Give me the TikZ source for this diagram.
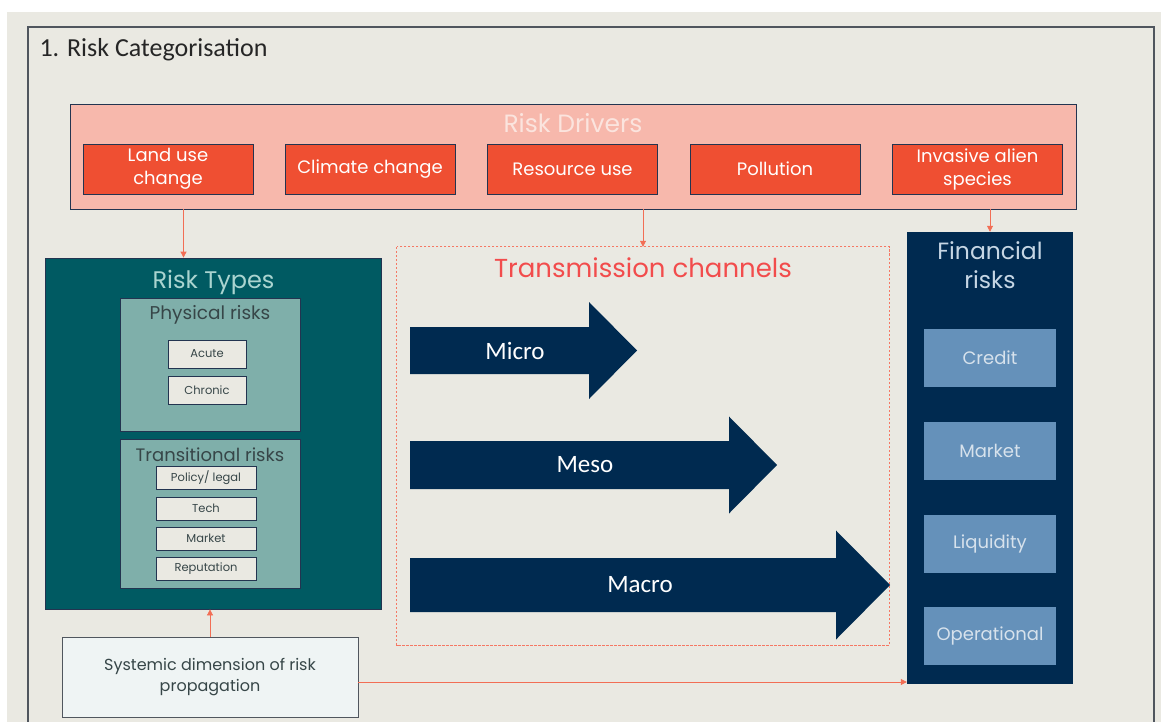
\documentclass[tikz,border=0pt]{standalone}
\usepackage{fontspec}
\setmainfont{Poppins}
\newfontfamily\calibfont{Carlito}
\usetikzlibrary{arrows.meta,positioning}
\definecolor{rcbg}{RGB}{234,233,226}
\definecolor{rcframe}{RGB}{80,86,94}
\definecolor{rcnavy}{RGB}{0,42,80}
\definecolor{rcedge}{RGB}{35,52,80}
\definecolor{rcpink}{RGB}{247,184,172}
\definecolor{rcpinktext}{RGB}{251,228,222}
\definecolor{rcorange}{RGB}{239,79,50}
\definecolor{rcteal}{RGB}{0,90,98}
\definecolor{rcteallight}{RGB}{127,175,170}
\definecolor{rctealtext}{RGB}{170,212,208}
\definecolor{rcgraytext}{RGB}{55,70,72}
\definecolor{rcsteel}{RGB}{101,145,186}
\definecolor{rcsteeltext}{RGB}{215,226,236}
\definecolor{rcred}{RGB}{242,76,76}
\definecolor{rclink}{RGB}{242,110,85}
\definecolor{rcdash}{RGB}{245,120,100}
\definecolor{rcpale}{RGB}{239,244,244}

\tikzset{
  box/.style={draw=rcedge, line width=0.8pt, inner sep=0pt, align=center},
  driver/.style={box, fill=rcorange, text=white, minimum width=170, minimum height=50,
    font=\fontsize{18}{23}\selectfont},
  smallbox/.style={box, fill=rcbg, text=rcgraytext, font=\fontsize{11.5}{13}\selectfont},
  finbox/.style={inner sep=0pt, fill=rcsteel, text=rcsteeltext, minimum width=132,
    minimum height=58, font=\fontsize{18}{20}\selectfont},
  link/.style={rclink, line width=0.8pt, -{Triangle[length=6pt,width=6pt]}},
  flow/.style={text=white, font=\calibfont\fontsize{25}{28}\selectfont}
}

\begin{document}
\begin{tikzpicture}[x=1pt,y=-1pt]
\useasboundingbox (0,0) rectangle (1161,722);
% background and frame
\fill[rcbg] (7,12) rectangle (1161,722);
\draw[rcframe, line width=1.4pt] (28,722) -- (28,27) -- (1154,27) -- (1154,722);
\node[anchor=base west, text=black!85, font=\calibfont\fontsize{26}{30}\selectfont] (title) at (36,57) {1. Risk Categorisation};

% Risk drivers
\node[box, fill=rcpink, minimum width=1006, minimum height=105] (drivers) at (573,156.5) {};
\node[below=6pt of drivers.north, text=rcpinktext, font=\fontsize{25}{28}\selectfont] (driverstitle) {Risk Drivers};
\foreach \name/\x/\txt in {land/168/{Land use\\change}, climate/370/{Climate change},
    resource/572.5/{Resource use}, pollution/775/{Pollution}, invasive/977.5/{Invasive alien\\species}}
  \node[driver] (\name) at (\x,169) {\txt};

% Risk types
\node[box, fill=rcteal, minimum width=336, minimum height=351] (rtypes) at (213.5,433.5) {};
\node[below=9pt of rtypes.north, text=rctealtext, font=\fontsize{24}{28}\selectfont] (rtypestitle) {Risk Types};
\node[box, fill=rcteallight, minimum width=180, minimum height=133] (physical) at (210,364.5) {};
\node[below=4.5pt of physical.north, text=rcgraytext, font=\fontsize{18.5}{21}\selectfont] (physicaltitle) {Physical risks};
\node[smallbox, minimum width=78, minimum height=28] (acute) at (207,354) {Acute};
\node[smallbox, minimum width=78, minimum height=28] (chronic) at (207,390) {Chronic};
\node[box, fill=rcteallight, minimum width=180, minimum height=149] (transitional) at (210,513.5) {};
\node[below=6pt of transitional.north, text=rcgraytext, font=\fontsize{18}{21}\selectfont] (transitionaltitle) {Transitional risks};
\foreach \name/\y/\txt in {policy/478/{Policy/ legal}, tech/508.5/Tech, market/538.5/Market, reputation/569/Reputation}
  \node[smallbox, minimum width=100, minimum height=23] (\name) at (206,\y) {\txt};

% Systemic dimension
\node[box, draw=rcframe, fill=rcpale, minimum width=296, minimum height=80, text=rcgraytext,
  font=\fontsize{16}{21}\selectfont] (systemic) at (210,677) {Systemic dimension of risk\\propagation};

% Transmission channels
\node[minimum width=492, minimum height=398, inner sep=0pt] (trans) at (643,446) {};
\draw[rcdash, line width=1pt, dash pattern=on 2.5pt off 1.5pt] (trans.north west) rectangle (trans.south east);
\node[below=7pt of trans.north, text=rcred, font=\fontsize{26}{29}\selectfont] (transtitle) {Transmission channels};
\foreach \cy/\bh/\hx/\hh/\tx in {350.5/23.5/589/48.5/637, 465/24/729/48.5/777, 585/27/836/54.5/890}
  \fill[rcnavy] (410,\cy-\bh) -- (\hx,\cy-\bh) -- (\hx,\cy-\hh) -- (\tx,\cy) -- (\hx,\cy+\hh)
    -- (\hx,\cy+\bh) -- (410,\cy+\bh) -- cycle;
\node[flow] (micro) at (515,351) {Micro};
\node[flow] (meso) at (585,465) {Meso};
\node[flow] (macro) at (640,585) {Macro};

% Financial risks
\node[fill=rcnavy, minimum width=166, minimum height=452, inner sep=0pt] (fin) at (990,458) {};
\node[below=6pt of fin.north, text=rcsteeltext!85!rcsteel, align=center, font=\fontsize{23.5}{29}\selectfont] (fintitle) {Financial\\risks};
\foreach \name/\y/\txt in {credit/358/Credit, finmarket/451/Market, liquidity/543.5/Liquidity, operational/636/Operational}
  \node[finbox] (\name) at (990,\y) {\txt};

% Links
\draw[link] ([xshift=-30pt]rtypes.north |- drivers.south) -- ([xshift=-30pt]rtypes.north);
\draw[link] (drivers.south -| trans.north) -- (trans.north);
\draw[link] (drivers.south -| fin.north) -- (fin.north);
\draw[link] (systemic.north) -- (systemic.north |- rtypes.south);
\draw[link] ([yshift=-5pt]systemic.east) -- ([yshift=-5pt]systemic.east -| fin.west);
\end{tikzpicture}
\end{document}
